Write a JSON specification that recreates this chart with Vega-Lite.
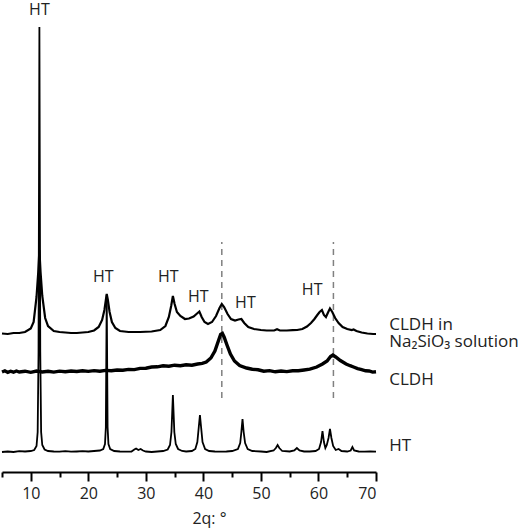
{
  "$schema": "https://vega.github.io/schema/vega-lite/v6.json",
  "description": "XRD patterns of HT, CLDH and CLDH in Na2SiO3 solution",
  "width": 374,
  "height": 472,
  "autosize": {"type": "none"},
  "padding": {"left": 2, "top": 0, "right": 144, "bottom": 60},
  "datasets": {
    "traces": [
      {"s": "HT", "x": 5.0, "y": 20}, {"s": "HT", "x": 6.0, "y": 20.5}, {"s": "HT", "x": 7.0, "y": 20}, {"s": "HT", "x": 8.0, "y": 20.8},
      {"s": "HT", "x": 9.0, "y": 20.5}, {"s": "HT", "x": 10.0, "y": 21}, {"s": "HT", "x": 10.6, "y": 22}, {"s": "HT", "x": 11.0, "y": 26},
      {"s": "HT", "x": 11.2, "y": 40}, {"s": "HT", "x": 11.35, "y": 120}, {"s": "HT", "x": 11.5, "y": 445}, {"s": "HT", "x": 11.65, "y": 120},
      {"s": "HT", "x": 11.8, "y": 40}, {"s": "HT", "x": 12.0, "y": 27}, {"s": "HT", "x": 12.4, "y": 22.5}, {"s": "HT", "x": 13.0, "y": 21},
      {"s": "HT", "x": 14, "y": 20.5}, {"s": "HT", "x": 15, "y": 20.3}, {"s": "HT", "x": 16, "y": 20.8}, {"s": "HT", "x": 17, "y": 20.3},
      {"s": "HT", "x": 18, "y": 20.5}, {"s": "HT", "x": 19, "y": 20.8}, {"s": "HT", "x": 20, "y": 20.5}, {"s": "HT", "x": 21, "y": 21},
      {"s": "HT", "x": 22, "y": 21.5}, {"s": "HT", "x": 22.6, "y": 23}, {"s": "HT", "x": 22.9, "y": 28}, {"s": "HT", "x": 23.05, "y": 45},
      {"s": "HT", "x": 23.2, "y": 177}, {"s": "HT", "x": 23.35, "y": 45}, {"s": "HT", "x": 23.5, "y": 28}, {"s": "HT", "x": 23.8, "y": 23},
      {"s": "HT", "x": 24.5, "y": 21}, {"s": "HT", "x": 25.5, "y": 20.5}, {"s": "HT", "x": 26.5, "y": 20.3}, {"s": "HT", "x": 27.5, "y": 20.5},
      {"s": "HT", "x": 28.0, "y": 22.5}, {"s": "HT", "x": 28.3, "y": 23.5}, {"s": "HT", "x": 28.7, "y": 22}, {"s": "HT", "x": 29.1, "y": 23},
      {"s": "HT", "x": 29.5, "y": 21.5}, {"s": "HT", "x": 30, "y": 20.5}, {"s": "HT", "x": 31, "y": 20}, {"s": "HT", "x": 32, "y": 20.5},
      {"s": "HT", "x": 33, "y": 21}, {"s": "HT", "x": 33.8, "y": 22.5}, {"s": "HT", "x": 34.2, "y": 27}, {"s": "HT", "x": 34.45, "y": 40},
      {"s": "HT", "x": 34.7, "y": 77}, {"s": "HT", "x": 34.95, "y": 40}, {"s": "HT", "x": 35.2, "y": 28}, {"s": "HT", "x": 35.6, "y": 23},
      {"s": "HT", "x": 36.3, "y": 21}, {"s": "HT", "x": 37, "y": 20.5}, {"s": "HT", "x": 38, "y": 21}, {"s": "HT", "x": 38.6, "y": 23},
      {"s": "HT", "x": 38.95, "y": 30}, {"s": "HT", "x": 39.2, "y": 45}, {"s": "HT", "x": 39.4, "y": 57}, {"s": "HT", "x": 39.6, "y": 45},
      {"s": "HT", "x": 39.85, "y": 30}, {"s": "HT", "x": 40.3, "y": 23}, {"s": "HT", "x": 41, "y": 21}, {"s": "HT", "x": 42, "y": 20.5},
      {"s": "HT", "x": 43, "y": 20.3}, {"s": "HT", "x": 44, "y": 20.5}, {"s": "HT", "x": 45, "y": 21}, {"s": "HT", "x": 46.0, "y": 23},
      {"s": "HT", "x": 46.4, "y": 29}, {"s": "HT", "x": 46.6, "y": 40}, {"s": "HT", "x": 46.8, "y": 53}, {"s": "HT", "x": 47.0, "y": 40},
      {"s": "HT", "x": 47.25, "y": 29}, {"s": "HT", "x": 47.7, "y": 23}, {"s": "HT", "x": 48.5, "y": 21}, {"s": "HT", "x": 50, "y": 20.5},
      {"s": "HT", "x": 51, "y": 20}, {"s": "HT", "x": 52.2, "y": 21.5}, {"s": "HT", "x": 52.6, "y": 24}, {"s": "HT", "x": 52.9, "y": 27},
      {"s": "HT", "x": 53.2, "y": 24}, {"s": "HT", "x": 53.7, "y": 21}, {"s": "HT", "x": 55, "y": 20.5}, {"s": "HT", "x": 55.8, "y": 21.5},
      {"s": "HT", "x": 56.25, "y": 24}, {"s": "HT", "x": 56.7, "y": 21.5}, {"s": "HT", "x": 57.5, "y": 20.5}, {"s": "HT", "x": 58.5, "y": 20.5},
      {"s": "HT", "x": 59.5, "y": 21}, {"s": "HT", "x": 60.1, "y": 23}, {"s": "HT", "x": 60.45, "y": 30}, {"s": "HT", "x": 60.7, "y": 41},
      {"s": "HT", "x": 60.95, "y": 30}, {"s": "HT", "x": 61.2, "y": 24}, {"s": "HT", "x": 61.45, "y": 27}, {"s": "HT", "x": 61.75, "y": 34},
      {"s": "HT", "x": 62.0, "y": 43}, {"s": "HT", "x": 62.25, "y": 34}, {"s": "HT", "x": 62.55, "y": 26}, {"s": "HT", "x": 63.0, "y": 22},
      {"s": "HT", "x": 63.5, "y": 23}, {"s": "HT", "x": 64.0, "y": 21}, {"s": "HT", "x": 65, "y": 20.5}, {"s": "HT", "x": 65.6, "y": 21.5},
      {"s": "HT", "x": 65.9, "y": 25}, {"s": "HT", "x": 66.2, "y": 21.5}, {"s": "HT", "x": 67, "y": 20.5}, {"s": "HT", "x": 68, "y": 20.3},
      {"s": "HT", "x": 69, "y": 20.5}, {"s": "HT", "x": 70, "y": 20.3},

      {"s": "CLDH", "x": 5, "y": 100}, {"s": "CLDH", "x": 5.5, "y": 101.2}, {"s": "CLDH", "x": 6, "y": 99.6}, {"s": "CLDH", "x": 6.5, "y": 100.8},
      {"s": "CLDH", "x": 7, "y": 99.8}, {"s": "CLDH", "x": 7.5, "y": 101}, {"s": "CLDH", "x": 8, "y": 100}, {"s": "CLDH", "x": 9, "y": 100.8},
      {"s": "CLDH", "x": 10, "y": 99.7}, {"s": "CLDH", "x": 11, "y": 100.9}, {"s": "CLDH", "x": 12, "y": 100}, {"s": "CLDH", "x": 13, "y": 100.8},
      {"s": "CLDH", "x": 14, "y": 99.9}, {"s": "CLDH", "x": 15, "y": 100.9}, {"s": "CLDH", "x": 16, "y": 100.2}, {"s": "CLDH", "x": 17, "y": 101},
      {"s": "CLDH", "x": 18, "y": 100.5}, {"s": "CLDH", "x": 19, "y": 101.3}, {"s": "CLDH", "x": 20, "y": 100.6}, {"s": "CLDH", "x": 21, "y": 101.4},
      {"s": "CLDH", "x": 22, "y": 100.8}, {"s": "CLDH", "x": 23, "y": 101.6}, {"s": "CLDH", "x": 24, "y": 101.2}, {"s": "CLDH", "x": 25, "y": 102},
      {"s": "CLDH", "x": 26, "y": 101.7}, {"s": "CLDH", "x": 27, "y": 102.6}, {"s": "CLDH", "x": 28, "y": 102.4}, {"s": "CLDH", "x": 29, "y": 103.6},
      {"s": "CLDH", "x": 30, "y": 103.8}, {"s": "CLDH", "x": 31, "y": 105}, {"s": "CLDH", "x": 32, "y": 105.2}, {"s": "CLDH", "x": 33, "y": 106.2},
      {"s": "CLDH", "x": 34, "y": 105.8}, {"s": "CLDH", "x": 35, "y": 106.8}, {"s": "CLDH", "x": 36, "y": 106.3}, {"s": "CLDH", "x": 37, "y": 107.2},
      {"s": "CLDH", "x": 38, "y": 106.8}, {"s": "CLDH", "x": 39, "y": 108}, {"s": "CLDH", "x": 39.8, "y": 108.6},
      {"s": "CLDH", "x": 40.5, "y": 110}, {"s": "CLDH", "x": 41.3, "y": 114}, {"s": "CLDH", "x": 42.0, "y": 121}, {"s": "CLDH", "x": 42.6, "y": 131},
      {"s": "CLDH", "x": 43.0, "y": 137.5}, {"s": "CLDH", "x": 43.3, "y": 138.5}, {"s": "CLDH", "x": 43.6, "y": 135}, {"s": "CLDH", "x": 44.1, "y": 127},
      {"s": "CLDH", "x": 44.7, "y": 118}, {"s": "CLDH", "x": 45.4, "y": 111}, {"s": "CLDH", "x": 46.3, "y": 106.5}, {"s": "CLDH", "x": 47.5, "y": 104},
      {"s": "CLDH", "x": 48.5, "y": 102.8}, {"s": "CLDH", "x": 49.5, "y": 102.2}, {"s": "CLDH", "x": 50.5, "y": 100.8}, {"s": "CLDH", "x": 51.5, "y": 101.4},
      {"s": "CLDH", "x": 52.5, "y": 100.2}, {"s": "CLDH", "x": 53.5, "y": 101}, {"s": "CLDH", "x": 54.5, "y": 100.4}, {"s": "CLDH", "x": 55.5, "y": 101.3},
      {"s": "CLDH", "x": 56.5, "y": 101.2}, {"s": "CLDH", "x": 57.5, "y": 102}, {"s": "CLDH", "x": 58.5, "y": 102.8}, {"s": "CLDH", "x": 59.7, "y": 105},
      {"s": "CLDH", "x": 60.7, "y": 108}, {"s": "CLDH", "x": 61.5, "y": 111}, {"s": "CLDH", "x": 62.1, "y": 115.5}, {"s": "CLDH", "x": 62.5, "y": 117},
      {"s": "CLDH", "x": 63.0, "y": 115}, {"s": "CLDH", "x": 63.8, "y": 111.5}, {"s": "CLDH", "x": 64.8, "y": 108}, {"s": "CLDH", "x": 65.5, "y": 106.3},
      {"s": "CLDH", "x": 66.1, "y": 105}, {"s": "CLDH", "x": 66.8, "y": 103.4}, {"s": "CLDH", "x": 67.5, "y": 102.4}, {"s": "CLDH", "x": 68.2, "y": 101.2},
      {"s": "CLDH", "x": 68.8, "y": 101}, {"s": "CLDH", "x": 69.4, "y": 99.9}, {"s": "CLDH", "x": 70, "y": 100.3},

      {"s": "Na", "x": 5.0, "y": 138.5}, {"s": "Na", "x": 6, "y": 138}, {"s": "Na", "x": 7, "y": 139}, {"s": "Na", "x": 8, "y": 139},
      {"s": "Na", "x": 9, "y": 140}, {"s": "Na", "x": 10, "y": 143.5}, {"s": "Na", "x": 10.5, "y": 150}, {"s": "Na", "x": 11.0, "y": 175},
      {"s": "Na", "x": 11.3, "y": 200}, {"s": "Na", "x": 11.5, "y": 222}, {"s": "Na", "x": 11.7, "y": 200}, {"s": "Na", "x": 12.0, "y": 176},
      {"s": "Na", "x": 12.5, "y": 154}, {"s": "Na", "x": 13.0, "y": 146}, {"s": "Na", "x": 14, "y": 141}, {"s": "Na", "x": 15, "y": 140},
      {"s": "Na", "x": 16, "y": 139.5}, {"s": "Na", "x": 17, "y": 139}, {"s": "Na", "x": 18, "y": 139}, {"s": "Na", "x": 19, "y": 139.5},
      {"s": "Na", "x": 20, "y": 140}, {"s": "Na", "x": 21, "y": 141.5}, {"s": "Na", "x": 21.8, "y": 145}, {"s": "Na", "x": 22.4, "y": 152},
      {"s": "Na", "x": 22.8, "y": 162}, {"s": "Na", "x": 23.05, "y": 172}, {"s": "Na", "x": 23.2, "y": 178}, {"s": "Na", "x": 23.4, "y": 172},
      {"s": "Na", "x": 23.7, "y": 160}, {"s": "Na", "x": 24.1, "y": 150}, {"s": "Na", "x": 24.7, "y": 144}, {"s": "Na", "x": 25.5, "y": 141},
      {"s": "Na", "x": 27, "y": 140}, {"s": "Na", "x": 29, "y": 140}, {"s": "Na", "x": 31, "y": 140.5}, {"s": "Na", "x": 32.5, "y": 142},
      {"s": "Na", "x": 33.4, "y": 146}, {"s": "Na", "x": 34.0, "y": 155}, {"s": "Na", "x": 34.4, "y": 166}, {"s": "Na", "x": 34.7, "y": 176},
      {"s": "Na", "x": 35.0, "y": 168}, {"s": "Na", "x": 35.4, "y": 160}, {"s": "Na", "x": 36, "y": 156}, {"s": "Na", "x": 36.8, "y": 153},
      {"s": "Na", "x": 37.5, "y": 153.5}, {"s": "Na", "x": 38.3, "y": 155.5}, {"s": "Na", "x": 38.9, "y": 158.5}, {"s": "Na", "x": 39.3, "y": 160.5},
      {"s": "Na", "x": 39.7, "y": 155}, {"s": "Na", "x": 40.2, "y": 150}, {"s": "Na", "x": 40.8, "y": 148}, {"s": "Na", "x": 41.5, "y": 150},
      {"s": "Na", "x": 42.2, "y": 156}, {"s": "Na", "x": 42.8, "y": 164}, {"s": "Na", "x": 43.2, "y": 168}, {"s": "Na", "x": 43.6, "y": 165},
      {"s": "Na", "x": 44.2, "y": 158}, {"s": "Na", "x": 44.8, "y": 153}, {"s": "Na", "x": 45.5, "y": 151.5}, {"s": "Na", "x": 46.1, "y": 152.5},
      {"s": "Na", "x": 46.6, "y": 153}, {"s": "Na", "x": 47.1, "y": 149}, {"s": "Na", "x": 47.8, "y": 145}, {"s": "Na", "x": 48.8, "y": 143},
      {"s": "Na", "x": 50, "y": 142}, {"s": "Na", "x": 51, "y": 141.5}, {"s": "Na", "x": 52.3, "y": 141.5}, {"s": "Na", "x": 52.8, "y": 142.7},
      {"s": "Na", "x": 53.3, "y": 141.5}, {"s": "Na", "x": 54.5, "y": 141.5}, {"s": "Na", "x": 55.5, "y": 141.8}, {"s": "Na", "x": 56.3, "y": 142},
      {"s": "Na", "x": 57.2, "y": 143}, {"s": "Na", "x": 58, "y": 145.5}, {"s": "Na", "x": 58.7, "y": 149}, {"s": "Na", "x": 59.3, "y": 153},
      {"s": "Na", "x": 59.8, "y": 157}, {"s": "Na", "x": 60.2, "y": 160}, {"s": "Na", "x": 60.6, "y": 162}, {"s": "Na", "x": 60.95, "y": 157},
      {"s": "Na", "x": 61.3, "y": 155}, {"s": "Na", "x": 61.7, "y": 160}, {"s": "Na", "x": 62.0, "y": 163.5}, {"s": "Na", "x": 62.4, "y": 160},
      {"s": "Na", "x": 62.9, "y": 154}, {"s": "Na", "x": 63.5, "y": 149}, {"s": "Na", "x": 64.2, "y": 145}, {"s": "Na", "x": 65, "y": 143},
      {"s": "Na", "x": 65.8, "y": 142}, {"s": "Na", "x": 66.1, "y": 142.5}, {"s": "Na", "x": 66.6, "y": 141}, {"s": "Na", "x": 67.5, "y": 139.5},
      {"s": "Na", "x": 68.5, "y": 138.5}, {"s": "Na", "x": 69.5, "y": 138}, {"s": "Na", "x": 70, "y": 138}
    ],
    "peaks": [
      {"x": 11.5, "y": 457, "t": "HT"},
      {"x": 22.6, "y": 190, "t": "HT"},
      {"x": 33.9, "y": 190, "t": "HT"},
      {"x": 39.1, "y": 170.5, "t": "HT"},
      {"x": 47.3, "y": 164.5, "t": "HT"},
      {"x": 58.9, "y": 177.5, "t": "HT"}
    ],
    "names": [
      {"x": 72.3, "y": 142, "t": "CLDH in"},
      {"x": 72.3, "y": 125.5, "t": "Na₂SiO₃ solution"},
      {"x": 72.3, "y": 87, "t": "CLDH"},
      {"x": 72.3, "y": 21, "t": "HT"}
    ],
    "guides": [
      {"x": 43.2, "y": 74, "y2": 230},
      {"x": 62.6, "y": 74, "y2": 230}
    ]
  },
  "encoding": {
    "x": {
      "field": "x",
      "type": "quantitative",
      "scale": {"domain": [5, 70], "nice": false, "zero": false},
      "axis": {
        "title": "2q: °",
        "values": [5, 10, 15, 20, 25, 30, 35, 40, 45, 50, 55, 60, 65, 70],
        "labelExpr": "datum.value % 10 === 0 ? datum.label : ''",
        "grid": false,
        "domainColor": "black",
        "domainWidth": 2,
        "tickColor": "black",
        "tickWidth": 2,
        "tickSize": {"condition": {"test": "datum.value % 10 === 0", "value": 9}, "value": 5},
        "labelPadding": 4,
        "labelFontSize": 16,
        "labelColor": "#222",
        "labelFont": "Open Sans",
        "titleFont": "Open Sans",
        "titleFontSize": 16,
        "titleFontWeight": "normal",
        "titleColor": "#222",
        "titlePadding": 9,
        "titleX": 207
      }
    },
    "y": {
      "field": "y",
      "type": "quantitative",
      "scale": {"domain": [0, 472], "nice": false},
      "axis": null
    }
  },
  "layer": [
    {
      "data": {"name": "guides"},
      "mark": {"type": "rule", "color": "#808080", "strokeWidth": 1.5, "strokeDash": [6, 5]},
      "encoding": {"y2": {"field": "y2"}}
    },
    {
      "data": {"name": "traces"},
      "transform": [{"filter": "datum.s === 'HT'"}],
      "mark": {"type": "line", "color": "black", "strokeWidth": 1.8},
      "encoding": {}
    },
    {
      "data": {"name": "traces"},
      "transform": [{"filter": "datum.s === 'CLDH'"}],
      "mark": {"type": "line", "color": "black", "strokeWidth": 3.4},
      "encoding": {}
    },
    {
      "data": {"name": "traces"},
      "transform": [{"filter": "datum.s === 'Na'"}],
      "mark": {"type": "line", "color": "black", "strokeWidth": 2.2},
      "encoding": {}
    },
    {
      "data": {"name": "peaks"},
      "mark": {"type": "text", "font": "Open Sans", "fontSize": 16, "color": "#222", "align": "center", "baseline": "alphabetic"},
      "encoding": {"text": {"field": "t"}}
    },
    {
      "data": {"name": "names"},
      "mark": {"type": "text", "font": "Open Sans, Noto Sans", "fontSize": 17, "color": "#222", "align": "left", "baseline": "alphabetic"},
      "encoding": {"text": {"field": "t"}}
    }
  ],
  "config": {
    "view": {"stroke": null}
  }
}
